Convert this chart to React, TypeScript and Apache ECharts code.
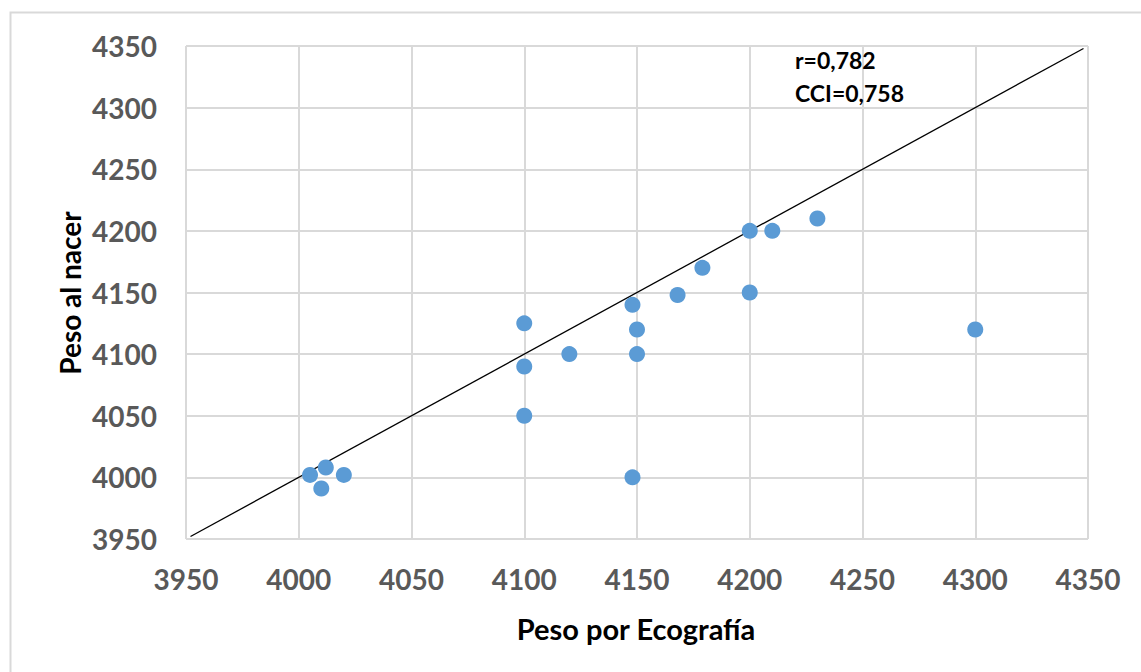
import React, { useEffect, useRef } from "react";
import * as echarts from "echarts";

const ecografia = [4005, 4012, 4020, 4010, 4100, 4100, 4100, 4120, 4148, 4150, 4150, 4148, 4168, 4179, 4200, 4210, 4200, 4230, 4300];
const nacer = [4002, 4008, 4002, 3991, 4125, 4090, 4050, 4100, 4140, 4120, 4100, 4000, 4148, 4170, 4200, 4200, 4150, 4210, 4120];
const identityLine = [3952, 4348];
const axisMin = 3950;
const axisMax = 4350;
const axisStep = 50;
const xTitle = "Peso por Ecografía";
const yTitle = "Peso al nacer";
const notes = ["r=0,782", "CCI=0,758"];

const FONT = "Lato";

export default function App() {
  const ref = useRef<HTMLDivElement>(null);
  useEffect(() => {
    document.body.style.margin = "0";
    const chart = echarts.init(ref.current!, null, { renderer: "svg" });
    const axisCommon = {
      type: "value",
      min: axisMin,
      max: axisMax,
      interval: axisStep,
      axisLine: { show: false },
      axisTick: { show: false },
      splitLine: { show: true, lineStyle: { color: "#D9D9D9", width: 2 } },
    };
    const labelCommon = {
      color: "#595959",
      fontFamily: FONT,
      fontWeight: "bold",
      fontSize: 28,
      formatter: (v: number) => String(v),
    };
    chart.setOption({
      animation: false,
      backgroundColor: "#ffffff",
      grid: { left: 186, top: 46, right: 53, bottom: 133 },
      xAxis: { ...axisCommon, axisLabel: { ...labelCommon, margin: 26 } },
      yAxis: { ...axisCommon, axisLabel: { ...labelCommon, margin: 29 } },
      graphic: [
        {
          type: "rect",
          shape: { x: 10.5, y: 12.5, width: 1300, height: 800 },
          style: { fill: "none", stroke: "#D9D9D9", lineWidth: 2 },
          silent: true,
          z: -10,
        },
        {
          type: "text",
          x: 636,
          y: 628,
          z: 100,
          style: { text: xTitle, fill: "#000", font: `bold 29px ${FONT}`, align: "center", verticalAlign: "middle" },
        },
        {
          type: "text",
          x: 70,
          y: 293,
          rotation: Math.PI / 2,
          z: 100,
          style: { text: yTitle, fill: "#000", font: `bold 28px ${FONT}`, align: "center", verticalAlign: "middle" },
        },
        {
          type: "text",
          x: 795,
          y: 60,
          z: 100,
          style: { text: notes[0], fill: "#000", font: `bold 23px ${FONT}`, align: "left", verticalAlign: "middle" },
        },
        {
          type: "text",
          x: 795,
          y: 93,
          z: 100,
          style: { text: notes[1], fill: "#000", font: `bold 23px ${FONT}`, align: "left", verticalAlign: "middle" },
        },
      ],
      series: [
        {
          type: "line",
          data: identityLine.map((v) => [v, v]),
          showSymbol: false,
          symbol: "none",
          lineStyle: { color: "#000", width: 1.3 },
          silent: true,
          z: 3,
        },
        {
          type: "scatter",
          data: ecografia.map((x, i) => [x, nacer[i]]),
          symbolSize: 16,
          itemStyle: { color: "#5B9BD5", opacity: 1 },
          z: 4,
        },
      ],
    });
    return () => chart.dispose();
  }, []);
  return <div ref={ref} style={{ position: "absolute", left: 0, top: 0, width: 1141, height: 672 }} />;
}
